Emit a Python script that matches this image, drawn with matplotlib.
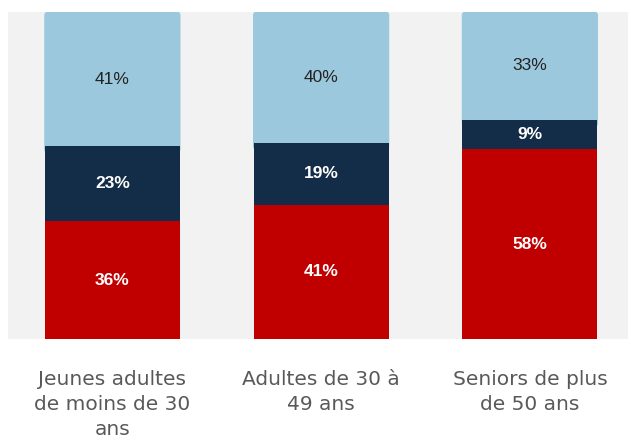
import numpy as np
import matplotlib.pyplot as plt
from matplotlib.patches import FancyBboxPatch

categories = ["Jeunes adultes\nde moins de 30\nans", "Adultes de 30 à\n49 ans", "Seniors de plus\nde 50 ans"]
red_vals = [36, 41, 58]
navy_vals = [23, 19, 9]
blue_vals = [41, 40, 33]

c_red, c_navy, c_blue = "#c00000", "#132c47", "#9bc8dd"

fig = plt.figure(figsize=(6.31, 4.41), dpi=100)
ax = fig.add_axes([8 / 631, 102 / 441, 620 / 631, 327 / 441])
ax.set_facecolor("#f2f2f2")

x = np.arange(len(categories))
w = 0.646
red = np.array(red_vals)
navy = np.array(navy_vals)
blue = np.array(blue_vals)

ax.bar(x, red, w, color=c_red, zorder=3)
ax.bar(x, navy, w, bottom=red, color=c_navy, zorder=3)
# top segment with slightly rounded top corners
for xi, b, h in zip(x, red + navy, blue):
    ax.add_patch(FancyBboxPatch((xi - w / 2, b - 2), w, h + 2,
                                boxstyle="round,pad=0,rounding_size=0.02",
                                mutation_aspect=50, color=c_blue, zorder=2))

for xi, r, n, bl in zip(x, red, navy, blue):
    ax.text(xi, r / 2, f"{r}%", ha="center", va="center", color="white",
            fontsize=12.5, fontweight="bold", family="Liberation Sans", zorder=4)
    ax.text(xi, r + n / 2, f"{n}%", ha="center", va="center", color="white",
            fontsize=12.5, fontweight="bold", family="Liberation Sans", zorder=4)
    ax.text(xi, r + n + bl / 2, f"{bl}%", ha="center", va="center", color="#222222",
            fontsize=12.5, family="Liberation Sans", zorder=4)

ax.set_xlim(-0.5, 2.47)
ax.set_ylim(0, 100)
ax.set_yticks([])
ax.set_xticks(x)
ax.set_xticklabels(categories, fontsize=14.5, color="#595959", family="DejaVu Sans",
                   linespacing=1.42)
ax.tick_params(axis="x", length=0, pad=22)
for s in ax.spines.values():
    s.set_visible(False)

plt.savefig("out.png", dpi=100)
